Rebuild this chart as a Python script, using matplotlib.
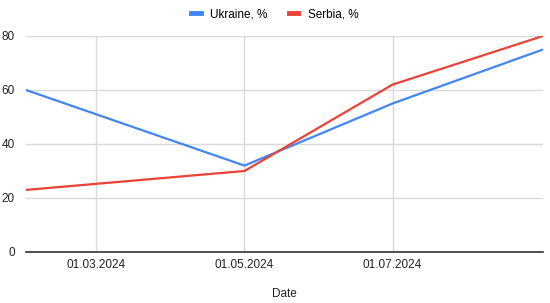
import matplotlib
matplotlib.use("Agg")
import matplotlib.pyplot as plt
import matplotlib.dates as mdates
from datetime import date

plt.rcParams["font.family"] = ["Liberation Sans", "DejaVu Sans"]

dates = [date(2024, 2, 1), date(2024, 5, 1), date(2024, 7, 1), date(2024, 9, 1)]
ukraine = [60, 32, 55, 75]
serbia = [23, 30, 62, 80]
tick_dates = [date(2024, 3, 1), date(2024, 5, 1), date(2024, 7, 1)]
y_ticks = [0, 20, 40, 60, 80]

fig = plt.figure(figsize=(5.5, 3.03), dpi=100)
ax = fig.add_axes([26 / 550, 1 - 252 / 303, (543 - 26) / 550, (252 - 36) / 303])

ax.plot(dates, ukraine, color="#4285F4", lw=1.6, label="Ukraine, %", zorder=3)
ax.plot(dates, serbia, color="#EA4335", lw=1.6, label="Serbia, %", zorder=3)

ax.set_xlim(dates[0], dates[-1])
ax.set_ylim(0, 80)
ax.set_yticks(y_ticks)
ax.set_xticks(tick_dates)
ax.xaxis.set_major_formatter(mdates.DateFormatter("%d.%m.%Y"))

ax.grid(True, color="#d9d9d9", lw=1)
for side in ["top", "right", "left"]:
    ax.spines[side].set_visible(False)
ax.spines["bottom"].set_color("#333333")
ax.spines["bottom"].set_linewidth(1.2)
ax.spines["bottom"].set_zorder(4)
ax.tick_params(length=0, labelsize=8.5, colors="#222222")
ax.tick_params(axis="y", pad=8)
ax.tick_params(axis="x", pad=5)

ax.set_xlabel("Date", fontsize=8.5, color="#222222", labelpad=12)

fig.legend(loc="upper center", bbox_to_anchor=(0.5, 1.0), ncol=2, frameon=False,
           fontsize=8.5, handlelength=0.8, handletextpad=0.8, columnspacing=1.8,
           borderaxespad=0.3)
for line in fig.legends[0].get_lines():
    line.set_linewidth(3.5)

fig.savefig("out.png", dpi=100)
